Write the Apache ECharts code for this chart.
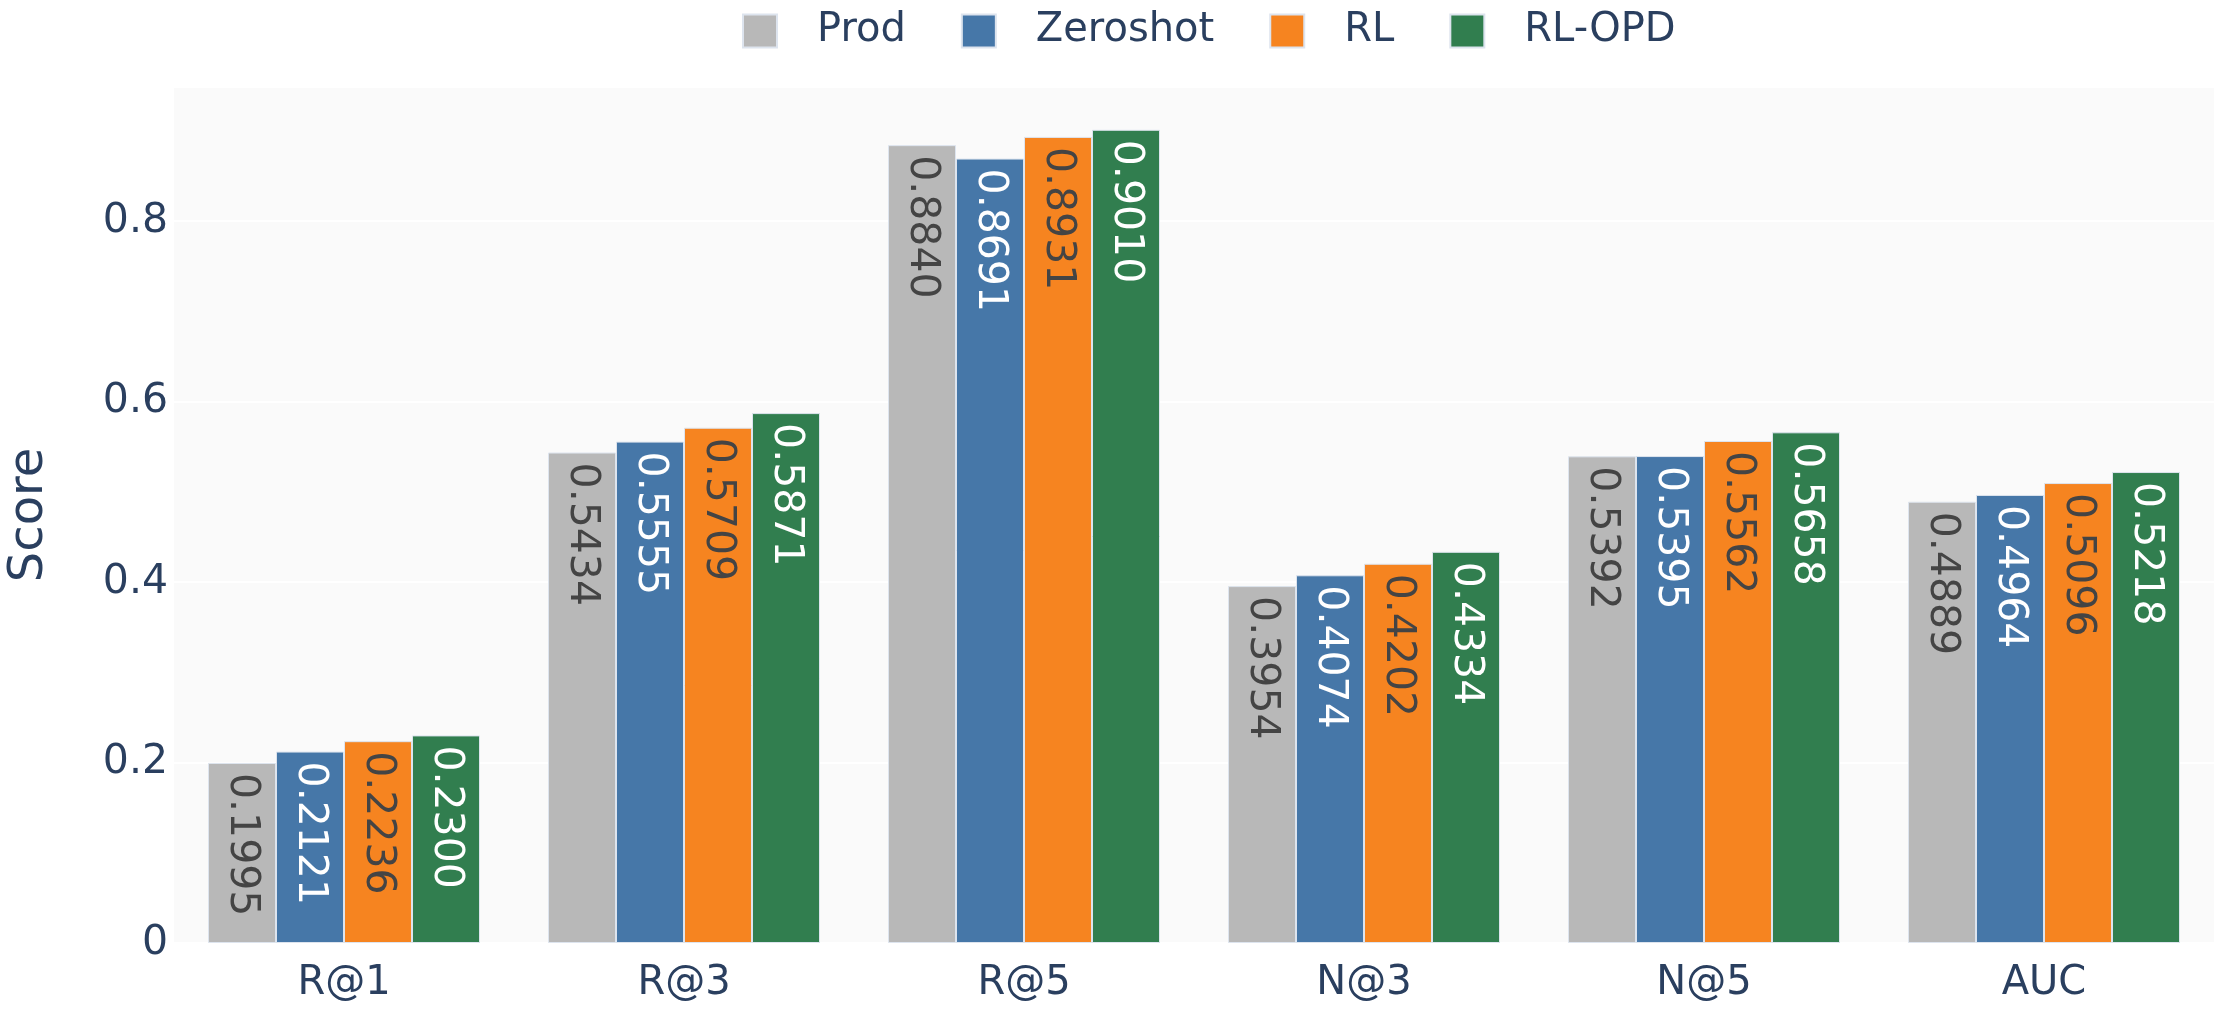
<!DOCTYPE html>
<html>
<head>
<meta charset="utf-8">
<script src="https://cdn.jsdelivr.net/npm/echarts@6/dist/echarts.min.js"></script>
<style>
html,body{margin:0;padding:0;background:#fff;}
#chart{width:2228px;height:1018px;}
</style>
</head>
<body>
<div id="chart"></div>
<script>
const categories = ['R@1', 'R@3', 'R@5', 'N@3', 'N@5', 'AUC'];
const seriesNames = ['Prod', 'Zeroshot', 'RL', 'RL-OPD'];
const prod = [0.1995, 0.5434, 0.8840, 0.3954, 0.5392, 0.4889];
const zeroshot = [0.2121, 0.5555, 0.8691, 0.4074, 0.5395, 0.4964];
const rl = [0.2236, 0.5709, 0.8931, 0.4202, 0.5562, 0.5096];
const rlOpd = [0.2300, 0.5871, 0.9010, 0.4334, 0.5658, 0.5218];
const yTicks = [0, 0.2, 0.4, 0.6, 0.8];

const values = [prod, zeroshot, rl, rlOpd];
const colors = ['#b8b8b8', '#4677a8', '#f68420', '#317e4f'];
const labelColors = ['#444444', '#ffffff', '#444444', '#ffffff'];
const FONT = 'DejaVu Sans, Verdana, sans-serif';

const chart = echarts.init(document.getElementById('chart'), null, {renderer: 'canvas'});
const option = {
  backgroundColor: '#ffffff',
  animation: false,
  textStyle: {fontFamily: FONT},
  legend: {
    data: seriesNames,
    left: 737,
    top: 6,
    icon: 'rect',
    itemWidth: 34,
    itemHeight: 33,
    itemGap: 55,
    textStyle: {fontFamily: FONT, fontSize: 40, color: '#2a3f5f', padding: [0, 0, 0, 35]}
  },
  grid: {
    left: 174, right: 14, top: 87, bottom: 75,
    outerBoundsMode: 'none',
    containLabel: false,
    show: true, backgroundColor: '#fafafa', borderWidth: 0
  },
  xAxis: {
    type: 'category',
    data: categories,
    axisLine: {show: false},
    axisTick: {show: false},
    axisLabel: {fontFamily: FONT, fontSize: 40, color: '#2a3f5f', margin: 21}
  },
  yAxis: {
    type: 'value',
    min: 0,
    max: 0.9484,
    interval: 0.2,
    name: 'Score',
    nameLocation: 'middle',
    nameRotate: 90,
    nameGap: 120,
    nameTextStyle: {fontFamily: FONT, fontSize: 48, color: '#2a3f5f'},
    axisLine: {show: false},
    axisTick: {show: false},
    splitLine: {lineStyle: {color: '#ffffff', width: 2}},
    axisLabel: {
      fontFamily: FONT, fontSize: 41, color: '#2a3f5f', margin: 6,
      showMaxLabel: false,
      formatter: function (v) {
        for (const t of yTicks) { if (Math.abs(t - v) < 1e-9) return String(t); }
        return '';
      }
    }
  },
  series: seriesNames.map((name, i) => ({
    name: name,
    type: 'bar',
    data: values[i],
    barGap: '0%',
    barCategoryGap: '20%',
    itemStyle: {color: colors[i], borderColor: '#dde4ee', borderWidth: 1},
    label: {
      show: true,
      position: 'insideTop',
      distance: 10,
      rotate: -90,
      align: 'left',
      verticalAlign: 'middle',
      fontFamily: FONT,
      fontSize: 41,
      color: labelColors[i],
      formatter: p => p.value.toFixed(4)
    }
  }))
};
chart.setOption(option);
</script>
</body>
</html>
